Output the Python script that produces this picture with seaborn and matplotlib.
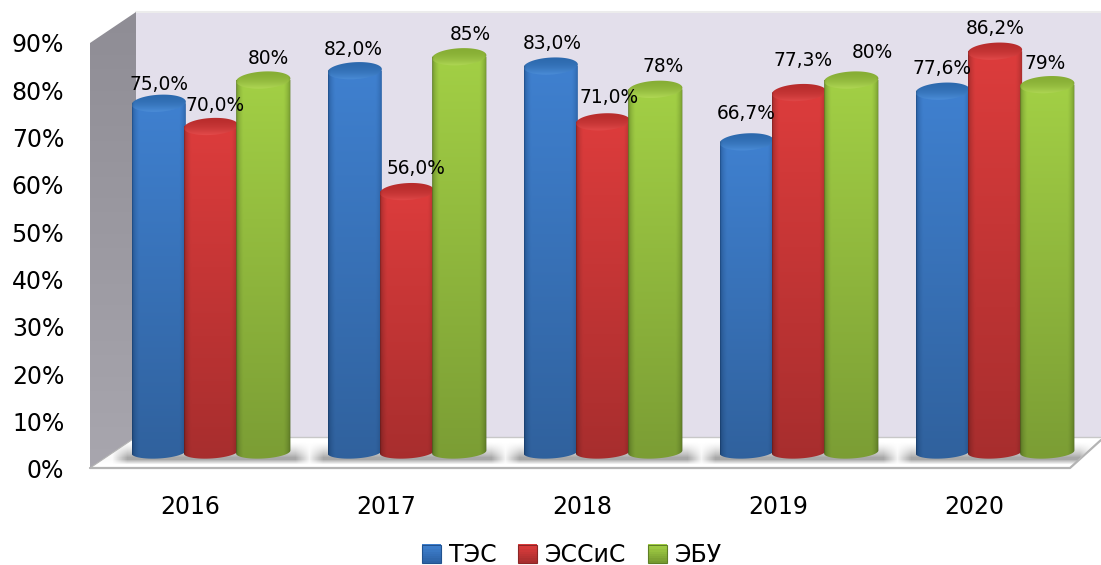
"""Recreated 3D-look cylinder bar chart, years by department"""
import matplotlib; matplotlib.use('Agg')
import matplotlib.pyplot as plt
from matplotlib.colors import to_rgb
from matplotlib.legend_handler import HandlerBase
from matplotlib.patches import Patch, Polygon, Rectangle
from matplotlib.path import Path
import numpy as np
import pandas as pd
import seaborn as sns

# ===== DATA =====
years = ['2016', '2017', '2018', '2019', '2020']
series_names = ['ТЭС', 'ЭССиС', 'ЭБУ']
tes = [75.0, 82.0, 83.0, 66.7, 77.6]
essis = [70.0, 56.0, 71.0, 77.3, 86.2]
ebu = [80, 85, 78, 80, 79]
y_ticks = [0, 10, 20, 30, 40, 50, 60, 70, 80, 90]

# ===== STYLE =====
W, H = 1101, 565
PX_PER_PCT = 4.65
BASE_Y, X0, X1 = 452, 113, 1093   # bars plane in pixels
FRONT = (92, 1072, 469, 43)       # plane that carries the ticks
COLORS = {'ТЭС': '#3f80cf', 'ЭССиС': '#dc3c3c', 'ЭБУ': '#a2cf45'}
EDGES = {'ТЭС': '#225390', 'ЭССиС': '#8c2626', 'ЭБУ': '#5f7f25'}
CAPS = {'ТЭС': ('#2c69ad', '#4e90dc'), 'ЭССиС': ('#b82c2c', '#e64c4c'), 'ЭБУ': ('#86ad34', '#b4dc58')}
# label offsets from bar top (pixels), same order as the series
NUDGE = {
    'ТЭС': [(0, 19), (-1, 21), (2, 23), (-1, 28), (-1, 23)],
    'ЭССиС': [(4, 21), (9, 23), (6, 24), (4, 32), (0, 23)],
    'ЭБУ': [(5, 21), (11, 22), (8, 23), (21, 28), (-2, 21)],
}

sns.set_theme(style='white')
plt.rcParams['font.family'] = ['DejaVu Sans']
fig = plt.figure(figsize=(W / 100, H / 100), dpi=100)


def rect(x0, x1, y_bottom, y_top):
    return [x0 / W, 1 - y_bottom / H, (x1 - x0) / W, (y_bottom - y_top) / H]


def mix(a, b, t):
    return np.asarray(to_rgb(a)) * (1 - t) + np.asarray(to_rgb(b)) * t


# ===== BACKGROUND WALLS =====
bg = fig.add_axes([0, 0, 1, 1], zorder=0)
bg.set_xlim(0, W); bg.set_ylim(H, 0); bg.axis('off')
bg.add_patch(Rectangle((136, 12), W - 136, 425, fc='#e3dfeb', ec='none'))
bg.plot([136, W], [12, 12], color='#ececec', lw=1.5)
side_img = np.array([[mix('#8f8d95', '#a8a6ae', t)] for t in np.linspace(0, 1, 64)])
side = bg.imshow(side_img, extent=(90, 136, 470, 12), aspect='auto', zorder=2)
side.set_clip_path(Polygon([(90, 43), (136, 12), (136, 437), (90, 468)], transform=bg.transData))

floor_pts = [(90, 468), (136, 437), (W, 437), (1070, 468)]
bg.add_patch(Polygon(floor_pts, fc='white', ec='none'))
# soft shadow of the bars on the floor
xs = np.arange(90, W)
ys = np.arange(437, 469)
horiz = np.zeros(xs.size)
for i in range(len(years)):
    left, right = 211 + 196 * i - 100, 211 + 196 * i + 100
    horiz = np.maximum(horiz, np.clip((xs - left) / 16, 0.05, 1) * np.clip((right - xs) / 16, 0.05, 1))
vert = np.clip((ys - 441) / 16, 0, 1) ** 1.5 * np.clip((464 - ys) / 5, 0, 1)
shadow = np.zeros((ys.size, xs.size, 4))
shadow[..., :3] = 0.58
shadow[..., 3] = np.outer(vert, horiz) * 0.8
im = bg.imshow(shadow, extent=(90, W, 469, 437), aspect='auto', interpolation='bilinear', zorder=2)
im.set_clip_path(Polygon(floor_pts, transform=bg.transData))
bg.plot([136, W], [437, 437], color='#c8c8c8', lw=1, zorder=3)
bg.plot([90, 1070, W], [468, 468, 440], color='#b4b4b4', lw=1.6, zorder=3)
bg.plot([90, 136], [468, 437], color='#b4b4b4', lw=0.8, zorder=3)
bg.set_xlim(0, W); bg.set_ylim(H, 0)

# ===== BARS =====
df = pd.DataFrame({
    'year': years * 3,
    'series': np.repeat(series_names, len(years)),
    'value': tes + essis + ebu,
})
y_min = (BASE_Y - 466) / PX_PER_PCT
y_max = (BASE_Y - 10) / PX_PER_PCT
ax = fig.add_axes(rect(X0, X1, 466, 10), zorder=1)
ax.patch.set_alpha(0)
sns.barplot(data=df, x='year', y='value', hue='series', hue_order=series_names, order=years,
            palette=COLORS, width=0.8, gap=0, legend=False, ax=ax, linewidth=0)
ax.set_xlim(-0.5, 4.5)
ax.set_ylim(y_min, y_max)
ax.axis('off')

CAP_B = 8.5 / PX_PER_PCT
BOT_B = 6.5 / PX_PER_PCT
TILT = 1.5 / PX_PER_PCT
t_arc = np.linspace(0, 2 * np.pi, 80)
z = 3
for name, container in zip(series_names, ax.containers):
    for bar, txt_off in zip(container.patches, NUDGE[name]):
        x0, x1 = bar.get_x() - 0.005, bar.get_x() + bar.get_width() + 0.005
        v = bar.get_height()
        cx, a = (x0 + x1) / 2, (x1 - x0) / 2
        # body: shaded like a cylinder, darker towards the floor
        u = np.linspace(-1, 1, 60)
        prof = np.clip(np.sqrt(1 - u ** 2) * 1.5, 0, 1) ** 0.9
        rows = np.linspace(1, 0.76, 40)
        body = np.array([[mix(EDGES[name], COLORS[name], p) * r for p in prof] for r in rows])
        low = np.linspace(np.pi, 2 * np.pi, 30)
        arc_x = cx + a * np.cos(low)
        arc_y = BOT_B * np.sin(low) + TILT * np.cos(low)
        outline = np.r_[[[x0, v]], np.c_[arc_x, arc_y], [[x1, v]]]
        img = ax.imshow(np.clip(body, 0, 1), extent=(x0, x1, -BOT_B - 1, v), aspect='auto',
                        interpolation='bilinear', zorder=z)
        img.set_clip_path(Path(outline), ax.transData)
        # top cap
        cap_rows = np.linspace(0, 1, 24) ** 2
        cap = np.array([[mix(*CAPS[name], c) * (0.82 + 0.18 * min(1, p * 1.5)) for p in prof] for c in cap_rows])
        ell = np.c_[cx + a * np.cos(t_arc), v + CAP_B * np.sin(t_arc) + TILT * np.cos(t_arc)]
        top = ax.imshow(np.clip(cap, 0, 1), extent=(x0, x1, v - CAP_B - TILT, v + CAP_B + TILT), aspect='auto',
                        origin='upper', interpolation='bilinear', zorder=z + 0.5)
        top.set_clip_path(Path(ell), ax.transData)
        # value label
        label = f'{v:.1f}'.replace('.', ',') + '%' if name != 'ЭБУ' else f'{v:.0f}%'
        ax.annotate(label, (cx, v), xytext=txt_off, textcoords='offset pixels', ha='center', va='center',
                    fontsize=13.4, color='black', zorder=20, annotation_clip=False)
    z += 1
ax.set_xlim(-0.5, 4.5)
ax.set_ylim(y_min, y_max)

# ===== FRONT AXIS: TICKS =====
front = fig.add_axes(rect(FRONT[0], FRONT[1], FRONT[2], FRONT[3]), zorder=2)
front.patch.set_alpha(0)
front.set_xlim(-0.5, 4.5)
front.set_ylim(0, 90)
front.set_xticks(range(len(years)), years)
front.set_yticks(y_ticks, [f'{t}%' for t in y_ticks])
front.tick_params(axis='x', length=0, pad=19, labelsize=17, labelcolor='black')
front.tick_params(axis='y', length=0, pad=20, labelsize=17, labelcolor='black')
sns.despine(ax=front, left=True, bottom=True)


# ===== LEGEND =====
class GradientSquare(HandlerBase):
    def create_artists(self, legend, orig_handle, xdescent, ydescent, width, height, fontsize, trans):
        name = orig_handle.get_label()
        steps = 8
        parts = []
        for s in range(steps):
            part = Rectangle((-xdescent, -ydescent + height * s / steps), width, height / steps + 0.2,
                             fc=mix(EDGES[name], COLORS[name], 0.35 + 0.65 * s / (steps - 1)), ec='none', transform=trans)
            parts.append(part)
        parts.append(Rectangle((-xdescent, -ydescent), width, height, fc='none', ec=EDGES[name], lw=0.8, transform=trans))
        return parts


handles = [Patch(label=name) for name in series_names]
fig.legend(handles=handles, labels=series_names, loc='center', bbox_to_anchor=(572 / W, 1 - 555 / H), ncol=3,
           frameon=False, fontsize=17, handlelength=0.8, handleheight=0.8, handletextpad=0.35, columnspacing=0.9,
           borderpad=0, handler_map={Patch: GradientSquare()}, labelcolor='black')

fig.savefig('out.png', dpi=100)
